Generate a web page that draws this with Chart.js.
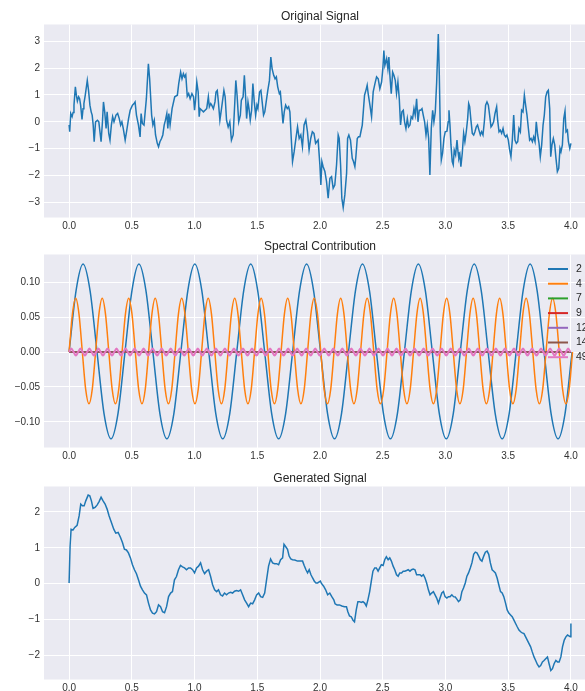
<!DOCTYPE html>
<html>
<head>
<meta charset="utf-8">
<script src="https://cdn.jsdelivr.net/npm/chart.js@4.4.0/dist/chart.umd.min.js"></script>
<style>
html, body { margin:0; padding:0; background:#fff; width:585px; height:691px; overflow:hidden; position:relative; }
.box { position:absolute; left:0; width:640px; }
.box canvas { display:block; }
</style>
</head>
<body>
<div class="box" style="top:3px"><canvas id="c1" width="640" height="231"></canvas></div>
<div class="box" style="top:233px"><canvas id="c2" width="640" height="231"></canvas></div>
<div class="box" style="top:465px"><canvas id="c3" width="640" height="231"></canvas></div>
<script>
// tick labels
const xTicks = [0, 0.5, 1, 1.5, 2, 2.5, 3, 3.5, 4];
const yTicksOrig = [-3, -2, -1, 0, 1, 2, 3];
const yTicksSpec = [-0.1, -0.05, 0, 0.05, 0.1];
const yTicksGen = [-2, -1, 0, 1, 2];

// original signal
const origT = [0.000,0.005,0.013,0.024,0.032,0.039,0.050,0.058,0.066,0.076,
0.084,0.092,0.103,0.111,0.118,0.129,0.145,0.155,0.166,0.176,
0.184,0.192,0.200,0.211,0.226,0.237,0.255,0.266,0.274,0.284,
0.295,0.303,0.316,0.326,0.337,0.347,0.358,0.374,0.387,0.400,
0.411,0.421,0.432,0.447,0.458,0.474,0.487,0.505,0.518,0.526,
0.537,0.553,0.566,0.574,0.584,0.597,0.616,0.632,0.642,0.658,
0.668,0.679,0.689,0.703,0.713,0.724,0.737,0.747,0.758,0.768,
0.779,0.787,0.795,0.805,0.821,0.842,0.863,0.874,0.889,0.900,
0.911,0.921,0.930,0.942,0.953,0.965,0.979,0.992,1.000,1.008,
1.018,1.029,1.037,1.044,1.058,1.071,1.084,1.097,1.110,1.118,
1.129,1.137,1.150,1.163,1.171,1.181,1.189,1.202,1.215,1.234,
1.244,1.255,1.268,1.281,1.294,1.308,1.321,1.329,1.339,1.352,
1.365,1.373,1.387,1.397,1.405,1.415,1.426,1.434,1.444,1.455,
1.465,1.476,1.487,1.497,1.505,1.518,1.529,1.539,1.550,1.560,
1.571,1.584,1.597,1.608,1.618,1.631,1.642,1.652,1.663,1.676,
1.684,1.694,1.705,1.715,1.726,1.739,1.750,1.760,1.771,1.781,
1.794,1.808,1.821,1.834,1.847,1.860,1.873,1.887,1.900,1.913,
1.926,1.939,1.952,1.965,1.985,1.999,2.007,2.015,2.025,2.039,
2.052,2.065,2.079,2.092,2.105,2.118,2.132,2.145,2.153,2.164,
2.174,2.185,2.198,2.212,2.220,2.230,2.243,2.257,2.267,2.278,
2.286,2.297,2.307,2.318,2.326,2.337,2.347,2.355,2.366,2.376,
2.384,2.398,2.411,2.424,2.438,2.451,2.464,2.477,2.491,2.501,
2.509,2.517,2.531,2.541,2.549,2.557,2.568,2.579,2.589,2.600,
2.610,2.621,2.632,2.642,2.653,2.664,2.674,2.685,2.696,2.706,
2.717,2.727,2.738,2.749,2.759,2.770,2.781,2.791,2.802,2.813,
2.823,2.834,2.845,2.855,2.866,2.876,2.887,2.898,2.908,2.919,
2.930,2.943,2.951,2.959,2.967,2.977,2.988,2.998,3.012,3.022,
3.028,3.036,3.044,3.054,3.062,3.070,3.081,3.092,3.100,3.107,
3.115,3.123,3.134,3.145,3.155,3.166,3.177,3.185,3.193,3.203,
3.214,3.225,3.235,3.246,3.256,3.267,3.278,3.288,3.299,3.310,
3.320,3.331,3.342,3.352,3.363,3.373,3.384,3.395,3.408,3.416,
3.427,3.437,3.448,3.459,3.469,3.480,3.490,3.501,3.512,3.522,
3.533,3.544,3.554,3.565,3.576,3.586,3.597,3.607,3.618,3.629,
3.639,3.650,3.661,3.671,3.682,3.693,3.703,3.714,3.724,3.735,
3.746,3.756,3.767,3.778,3.788,3.799,3.810,3.820,3.831,3.839,
3.849,3.860,3.871,3.881,3.892,3.903,3.913,3.921,3.932,3.943,
3.953,3.961,3.972,3.980,3.991,4.000];
const origV = [-0.12,-0.37,0.31,0.19,0.35,0.62,1.30,0.99,0.77,0.93,
0.86,0.62,0.09,0.49,0.68,0.99,1.54,1.17,0.62,0.37,
0.25,-0.12,-0.74,0.00,0.06,0.00,-0.74,0.00,0.74,0.37,
-0.25,0.37,-0.43,-0.68,-0.12,0.19,0.00,0.25,0.31,0.12,
-0.12,0.00,-0.25,-0.68,-0.37,0.12,0.43,0.62,0.68,0.74,
0.25,-0.12,-0.56,0.31,-0.06,-0.12,0.86,2.16,1.60,0.25,
-0.12,0.06,-0.49,-0.80,-0.93,-0.74,-0.62,-0.49,-0.12,0.06,
0.31,-0.25,0.31,-0.12,0.49,0.93,0.99,1.42,1.85,1.60,
1.79,1.67,1.75,0.95,1.05,0.86,1.05,0.93,0.43,0.80,
1.48,1.11,0.19,0.49,0.43,0.37,0.43,0.49,0.93,0.56,
0.68,0.62,0.49,0.74,1.11,1.17,0.80,0.06,0.49,1.17,
0.93,0.06,-0.19,0.00,-0.68,-0.49,0.74,1.54,0.99,0.00,
0.25,0.80,0.93,1.73,1.11,0.12,0.74,0.49,0.06,0.43,
1.42,0.74,0.25,0.62,0.49,1.11,1.17,0.74,0.25,0.37,
0.74,1.17,1.54,2.41,1.98,1.73,1.60,1.67,1.30,1.05,
1.11,0.56,-0.06,0.37,0.62,0.49,0.56,0.37,-0.62,-1.48,
-1.11,-0.62,-0.19,-0.62,-0.49,-0.93,-0.12,0.06,-0.37,-1.05,
-0.62,-0.37,-0.43,-0.80,-0.68,-1.60,-2.35,-1.48,-1.67,-1.85,
-2.22,-2.84,-2.10,-2.04,-2.47,-2.35,-1.60,-0.49,-0.62,-1.60,
-2.84,-3.19,-2.72,-1.91,-0.62,-0.49,-0.68,-1.36,-1.48,-1.67,
-1.30,-0.62,-0.56,-0.56,-0.37,-0.12,0.49,0.99,1.17,1.36,
1.05,0.62,0.19,1.11,1.42,1.67,1.60,1.23,1.48,1.98,
2.65,2.10,2.35,1.98,2.41,1.73,1.05,1.85,1.73,1.54,
1.05,1.48,0.86,-0.12,0.37,0.43,0.00,-0.25,0.12,-0.19,
-0.12,0.19,0.12,0.49,0.25,0.86,0.00,0.43,0.43,0.49,
0.25,0.00,-0.49,-0.12,-0.62,-1.98,-0.25,0.43,0.00,0.37,
1.48,3.27,1.73,-0.37,-1.42,-1.17,-0.62,-0.37,-0.35,0.00,
0.43,-0.12,-0.86,-1.48,-1.60,-1.05,-1.23,-0.68,-1.11,-1.36,
-1.23,-1.67,-1.17,-0.43,-0.74,-0.37,0.12,0.68,0.56,0.06,
-0.43,-0.49,-0.37,-0.19,-0.12,-0.31,-0.49,-0.37,-0.49,0.00,
0.62,0.74,0.62,0.25,-0.19,-0.12,0.00,0.31,0.56,0.06,
-0.37,-0.31,-0.43,-0.25,-0.49,-0.56,-0.49,-0.68,-1.05,-1.30,
-0.68,0.25,-0.68,-0.80,-0.74,-0.25,-0.37,0.43,0.37,0.99,
0.62,0.25,-0.25,-0.68,-0.62,-0.74,-0.56,-0.74,0.00,-0.49,
-0.80,-1.30,-0.86,-0.12,0.25,0.93,1.11,1.17,0.49,-1.30,
-0.86,-0.62,-0.86,-1.36,-1.85,-1.73,-0.99,-1.11,-0.86,0.12,
0.40,-0.37,-0.31,-0.74,-0.99,-0.80];

// spectral contributions: sample step (time) and values read at those samples
const specLabels = ['2', '4', '7', '9', '12', '14', '49'];
const specColors = ['#1f77b4', '#ff7f0e', '#2ca02c', '#d62728', '#9467bd', '#8c564b', '#e377c2'];
const specSteps = [0.05568, 0.0264, 4, 4, 4, 4, 0.018];
const spec2 = [0,.088,.126,.088,0,-.088,-.124,-.088, 0,.088,.126,.088,0,-.088,-.124,-.088,
0,.088,.126,.088,0,-.088,-.124,-.088, 0,.088,.126,.088,0,-.088,-.124,-.088,
0,.088,.126,.088,0,-.088,-.124,-.088, 0,.088,.126,.088,0,-.088,-.124,-.088,
0,.088,.126,.088,0,-.088,-.124,-.088, 0,.088,.126,.088,0,-.088,-.124,-.088,
0,.088,.126,.088,0,-.088,-.124,-.088, 0];
const spec4 = [0,.054,.077,.054,0,-.053,-.074,-.053, 0,.054,.077,.054,0,-.053,-.074,-.053,
0,.054,.077,.054,0,-.053,-.074,-.053, 0,.054,.077,.054,0,-.053,-.074,-.053,
0,.054,.077,.054,0,-.053,-.074,-.053, 0,.054,.077,.054,0,-.053,-.074,-.053,
0,.054,.077,.054,0,-.053,-.074,-.053, 0,.054,.077,.054,0,-.053,-.074,-.053,
0,.054,.077,.054,0,-.053,-.074,-.053, 0,.054,.077,.054,0,-.053,-.074,-.053,
0,.054,.077,.054,0,-.053,-.074,-.053, 0,.054,.077,.054,0,-.053,-.074,-.053,
0,.054,.077,.054,0,-.053,-.074,-.053, 0,.054,.077,.054,0,-.053,-.074,-.053,
0,.054,.077,.054,0,-.053,-.074,-.053, 0,.054,.077,.054,0,-.053,-.074,-.053,
0,.054,.077,.054,0,-.053,-.074,-.053, 0,.054,.077,.054,0,-.053,-.074,-.053,
0,.054,.077,.054,0,-.053,-.074,-.053, 0];
const spec7 = [0, 0];
const spec9 = [0, 0];
const spec12 = [0, 0];
const spec14 = [0, 0];
const spec49 = [0,.005,0,-.005,0,.005,0,-.005,0,.005,0,-.005,0,.005,0,-.005,0,.005,0,-.005,
0,.005,0,-.005,0,.005,0,-.005,0,.005,0,-.005,0,.005,0,-.005,0,.005,0,-.005,
0,.005,0,-.005,0,.005,0,-.005,0,.005,0,-.005,0,.005,0,-.005,0,.005,0,-.005,
0,.005,0,-.005,0,.005,0,-.005,0,.005,0,-.005,0,.005,0,-.005,0,.005,0,-.005,
0,.005,0,-.005,0,.005,0,-.005,0,.005,0,-.005,0,.005,0,-.005,0,.005,0,-.005,
0,.005,0,-.005,0,.005,0,-.005,0,.005,0,-.005,0,.005,0,-.005,0,.005,0,-.005,
0,.005,0,-.005,0,.005,0,-.005,0,.005,0,-.005,0,.005,0,-.005,0,.005,0,-.005,
0,.005,0,-.005,0,.005,0,-.005,0,.005,0,-.005,0,.005,0,-.005,0,.005,0,-.005,
0,.005,0,-.005,0,.005,0,-.005,0,.005,0,-.005,0,.005,0,-.005,0,.005,0,-.005,
0,.005,0,-.005,0,.005,0,-.005,0,.005,0,-.005,0,.005,0,-.005,0,.005,0,-.005,
0,.005,0,-.005,0,.005,0,-.005,0,.005,0,-.005,0,.005,0,-.005,0,.005,0,-.005,
0,.005,0];
const specValues = [spec2, spec4, spec7, spec9, spec12, spec14, spec49];

// generated signal
const genT = [0.000,0.008,0.016,0.032,0.045,0.064,0.080,0.093,0.106,0.120,
0.133,0.152,0.165,0.178,0.191,0.207,0.223,0.239,0.255,0.271,
0.287,0.303,0.319,0.338,0.356,0.372,0.391,0.410,0.426,0.441,
0.457,0.473,0.489,0.505,0.521,0.537,0.553,0.569,0.585,0.601,
0.617,0.633,0.649,0.665,0.681,0.697,0.713,0.729,0.745,0.761,
0.777,0.793,0.809,0.824,0.840,0.856,0.872,0.888,0.904,0.920,
0.936,0.952,0.968,0.984,1.000,1.016,1.032,1.048,1.064,1.080,
1.096,1.112,1.128,1.144,1.160,1.176,1.191,1.207,1.223,1.239,
1.255,1.271,1.287,1.303,1.319,1.335,1.351,1.367,1.383,1.399,
1.415,1.431,1.447,1.463,1.479,1.495,1.511,1.527,1.543,1.559,
1.574,1.590,1.606,1.622,1.638,1.654,1.670,1.686,1.702,1.713,
1.727,1.741,1.754,1.767,1.781,1.799,1.821,1.842,1.861,1.874,
1.888,1.901,1.914,1.928,1.941,1.955,1.968,1.981,2.003,2.013,
2.029,2.045,2.061,2.078,2.094,2.110,2.120,2.136,2.155,2.174,
2.195,2.211,2.222,2.235,2.249,2.262,2.275,2.289,2.302,2.316,
2.329,2.342,2.356,2.369,2.382,2.396,2.409,2.422,2.436,2.449,
2.463,2.476,2.489,2.503,2.516,2.529,2.543,2.556,2.569,2.583,
2.596,2.610,2.623,2.636,2.650,2.663,2.676,2.690,2.703,2.717,
2.730,2.743,2.757,2.770,2.783,2.797,2.810,2.824,2.837,2.850,
2.864,2.877,2.890,2.904,2.917,2.930,2.944,2.957,2.971,2.984,
2.997,3.011,3.024,3.037,3.051,3.064,3.078,3.091,3.104,3.118,
3.131,3.144,3.158,3.171,3.184,3.198,3.211,3.225,3.238,3.251,
3.265,3.278,3.291,3.305,3.318,3.332,3.345,3.358,3.372,3.385,
3.398,3.412,3.425,3.439,3.452,3.465,3.479,3.492,3.505,3.519,
3.532,3.545,3.559,3.572,3.586,3.599,3.612,3.626,3.639,3.652,
3.666,3.679,3.692,3.706,3.719,3.733,3.746,3.759,3.773,3.786,
3.799,3.813,3.826,3.840,3.853,3.866,3.880,3.893,3.906,3.920,
3.933,3.947,3.960,3.973,3.987,3.996,4.000];
const genV = [0.02,1.05,1.52,1.50,1.57,1.63,1.89,2.22,2.17,2.17,
2.31,2.47,2.45,2.31,2.10,2.13,2.19,2.29,2.41,2.31,
2.22,2.08,1.89,1.70,1.52,1.41,1.43,1.29,1.14,0.96,
0.94,0.86,0.72,0.53,0.39,0.28,0.11,-0.07,-0.17,-0.26,
-0.31,-0.54,-0.73,-0.82,-0.84,-0.78,-0.59,-0.64,-0.78,-0.81,
-0.64,-0.36,-0.26,-0.22,0.11,0.20,0.39,0.51,0.47,0.44,
0.39,0.44,0.44,0.39,0.30,0.44,0.49,0.58,0.39,0.28,
0.35,0.39,0.20,-0.03,-0.17,-0.22,-0.17,-0.31,-0.34,-0.26,
-0.31,-0.26,-0.24,-0.26,-0.21,-0.19,-0.21,-0.17,-0.31,-0.45,
-0.54,-0.64,-0.54,-0.56,-0.45,-0.31,-0.26,-0.36,-0.38,-0.26,
0.11,0.49,0.69,0.58,0.56,0.56,0.53,0.67,0.72,1.10,
1.03,0.96,0.77,0.69,0.67,0.66,0.63,0.63,0.63,0.51,
0.39,0.30,0.39,0.25,0.16,0.07,0.02,0.02,0.07,0.00,
-0.07,-0.17,-0.31,-0.26,-0.36,-0.45,-0.56,-0.59,-0.59,-0.62,
-0.64,-0.64,-0.78,-0.90,-0.92,-1.01,-1.06,-0.73,-0.50,-0.50,
-0.52,-0.50,-0.54,-0.62,-0.45,-0.22,0.07,0.35,0.44,0.44,
0.35,0.44,0.53,0.51,0.67,0.75,0.67,0.72,0.63,0.49,
0.39,0.25,0.21,0.30,0.30,0.35,0.35,0.37,0.39,0.35,
0.39,0.41,0.39,0.25,0.25,0.25,0.21,0.25,0.16,0.02,
-0.17,-0.31,-0.26,-0.22,-0.31,-0.40,-0.54,-0.40,-0.26,-0.22,
-0.36,-0.40,-0.36,-0.36,-0.31,-0.36,-0.37,-0.43,-0.50,-0.45,
-0.22,-0.12,0.02,0.21,0.30,0.44,0.58,0.82,0.88,0.86,
0.77,0.67,0.63,0.77,0.88,0.91,0.82,0.58,0.39,0.35,
0.30,0.16,-0.03,-0.22,-0.26,-0.36,-0.54,-0.73,-0.82,-0.87,
-0.92,-1.01,-1.11,-1.20,-1.29,-1.34,-1.37,-1.39,-1.48,-1.57,
-1.67,-1.76,-1.90,-2.04,-2.14,-2.25,-2.32,-2.28,-2.18,-2.14,
-2.09,-2.04,-2.23,-2.42,-2.37,-2.23,-2.14,-2.18,-2.18,-2.04,
-1.76,-1.57,-1.48,-1.43,-1.46,-1.48,-1.11];

Chart.defaults.font.family = '"Liberation Sans", Arial, sans-serif';
Chart.defaults.color = '#333';

function pairs(ts, vs) {
  return ts.map((t, i) => ({x: t, y: vs[i]}));
}
function stepped(step, vs) {
  return vs.map((v, i) => ({x: i * step, y: v}));
}

// seaborn-like grey plot background
const bgPlugin = {
  id: 'bg',
  beforeDraw(chart) {
    const a = chart.chartArea, ctx = chart.ctx;
    ctx.save();
    ctx.fillStyle = '#eaeaf2';
    ctx.fillRect(a.left, a.top, a.right - a.left, a.bottom - a.top);
    ctx.restore();
  }
};

// legend drawn inside the plot, top right, no frame
const sideLegend = {
  id: 'sideLegend',
  afterDraw(chart) {
    const a = chart.chartArea, ctx = chart.ctx;
    ctx.save();
    ctx.font = '10.5px "Liberation Sans", Arial, sans-serif';
    ctx.textBaseline = 'middle';
    chart.data.datasets.forEach((ds, i) => {
      const y = a.top + 14.5 + i * 14.7;
      ctx.strokeStyle = ds.borderColor;
      ctx.lineWidth = 2;
      ctx.beginPath();
      ctx.moveTo(a.right - 48, y);
      ctx.lineTo(a.right - 28, y);
      ctx.stroke();
      ctx.fillStyle = '#262626';
      ctx.fillText(ds.label, a.right - 20, y);
    });
    ctx.restore();
  }
};

function fmt(v, dec) {
  const s = Math.abs(v).toFixed(dec);
  return (v < -1e-9 ? '\u2212' : '') + s;
}

function makeChart(id, title, datasets, yMin, yMax, yTicks, yDec, plugins) {
  return new Chart(document.getElementById(id), {
    type: 'line',
    data: { datasets: datasets },
    options: {
      responsive: false,
      animation: false,
      parsing: false,
      layout: { padding: { left: 0, right: 44, top: 0, bottom: 0 } },
      elements: { point: { radius: 0 } },
      plugins: {
        legend: { display: false },
        tooltip: { enabled: false },
        title: {
          display: true, text: title, color: '#262626', fullSize: false,
          font: { size: 12, weight: 'normal' },
          padding: { top: 6.3, bottom: 0.8 }
        }
      },
      scales: {
        x: {
          type: 'linear', min: -0.2, max: 4.2,
          afterBuildTicks: s => { s.ticks = xTicks.map(v => ({value: v})); },
          afterFit: s => { s.height = 16.5; },
          grid: { color: '#ffffff', lineWidth: 1, drawTicks: false },
          border: { display: false },
          ticks: { padding: 3, color: '#333', font: { size: 10 }, maxRotation: 0, autoSkip: false,
            callback: v => fmt(v, 1) }
        },
        y: {
          type: 'linear', min: yMin, max: yMax,
          afterBuildTicks: s => { s.ticks = yTicks.map(v => ({value: v})); },
          afterFit: s => { s.width = 44; },
          grid: { color: '#ffffff', lineWidth: 1, drawTicks: false },
          border: { display: false },
          ticks: { padding: 4, color: '#333', font: { size: 10 }, autoSkip: false,
            callback: v => fmt(v, yDec) }
        }
      }
    },
    plugins: [bgPlugin].concat(plugins || [])
  });
}

makeChart('c1', 'Original Signal', [{
  data: pairs(origT, origV), borderColor: '#1f77b4', borderWidth: 1.5, tension: 0
}], -3.56, 3.62, yTicksOrig, 0);

const specSets = specLabels.map((lab, i) => ({
  label: lab,
  data: stepped(specSteps[i], specValues[i]),
  borderColor: specColors[i],
  borderWidth: i === 6 ? 2 : 1.5,
  cubicInterpolationMode: 'monotone',
  order: specLabels.length - i
}));
makeChart('c2', 'Spectral Contribution', specSets, -0.1366, 0.1396, yTicksSpec, 2, [sideLegend]);

makeChart('c3', 'Generated Signal', [{
  data: pairs(genT, genV), borderColor: '#1f77b4', borderWidth: 1.5, tension: 0
}], -2.67, 2.71, yTicksGen, 0);
</script>
</body>
</html>
